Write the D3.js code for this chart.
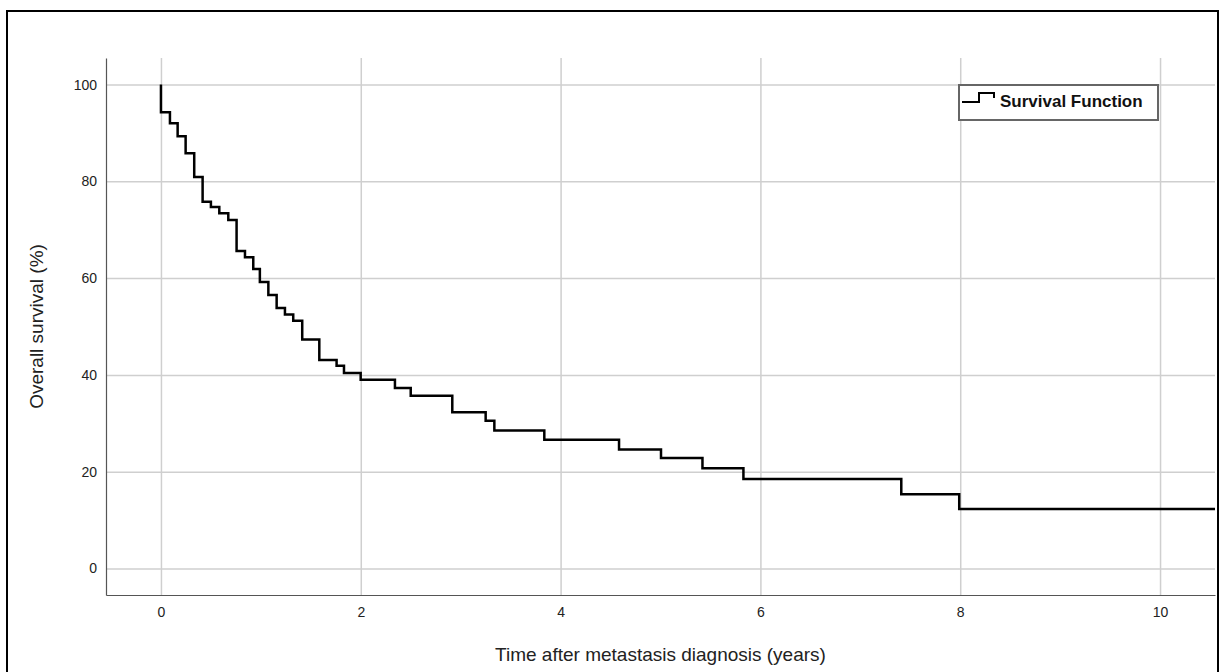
<!DOCTYPE html>
<html>
<head>
<meta charset="utf-8">
<script src="https://cdn.jsdelivr.net/npm/d3@7/dist/d3.min.js"></script>
<style>
  body { margin: 0; background: #fff; }
  svg { display: block; font-family: "Liberation Sans", Arial, sans-serif; }
  .grid line { stroke: #cfcfcf; stroke-width: 1.5; }
  .grid path { display: none; }
  .axis path { stroke: #555; stroke-width: 1.2; }
  .axis line { display: none; }
  .axis text { fill: #222; font-size: 14px; }
</style>
</head>
<body>
<div id="chart"></div>
<script>
// Kaplan-Meier steps (time in years, survival in %)
var stepTimes = [0, 0.09, 0.167, 0.247, 0.333, 0.417, 0.5, 0.584, 0.674, 0.757, 0.841, 0.924,
  0.99, 1.075, 1.158, 1.241, 1.324, 1.414, 1.585, 1.758, 1.832, 1.999, 2.342, 2.5,
  2.916, 3.25, 3.337, 3.837, 4.585, 5.005, 5.42, 5.83, 7.41, 7.99];
var stepSurvival = [94.3, 92.0, 89.3, 85.8, 80.9, 75.8, 74.7, 73.4, 72.0, 65.6, 64.3, 61.9,
  59.2, 56.5, 53.8, 52.5, 51.2, 47.3, 43.1, 41.9, 40.4, 39.0, 37.3, 35.7,
  32.3, 30.5, 28.5, 26.6, 24.6, 22.8, 20.7, 18.5, 15.3, 12.3];
var startSurvival = 100;
var lastFollowUp = 10.55;

var xTicks = [0, 2, 4, 6, 8, 10];
var yTicks = [0, 20, 40, 60, 80, 100];

var W = 1219, H = 672;
var margin = { top: 58, right: 4, bottom: 77, left: 106 },
    width = W - margin.left - margin.right,
    height = H - margin.top - margin.bottom;

var root = d3.select("#chart").append("svg")
    .attr("width", W)
    .attr("height", H);

// outer frame
root.append("rect")
    .attr("x", 7).attr("y", 11)
    .attr("width", W - 8).attr("height", H + 20)
    .attr("fill", "none")
    .attr("stroke", "#000")
    .attr("stroke-width", 2);

var svg = root.append("g")
    .attr("transform", "translate(" + margin.left + "," + margin.top + ")");

var x = d3.scaleLinear()
    .domain([-0.55, 10.55])
    .range([0, width]);

var y = d3.scaleLinear()
    .domain([-5.5, 105.5])
    .range([height, 0]);

/* gridlines */
svg.append("g")
    .attr("class", "grid")
    .attr("transform", "translate(0," + height + ")")
    .call(d3.axisBottom(x).tickValues(xTicks).tickSize(-height).tickFormat(""));

svg.append("g")
    .attr("class", "grid")
    .call(d3.axisLeft(y).tickValues(yTicks).tickSize(-width).tickFormat(""));

/* axes */
svg.append("g")
    .attr("class", "axis")
    .attr("transform", "translate(0," + height + ")")
    .call(d3.axisBottom(x).tickValues(xTicks).tickSize(0).tickPadding(12).tickSizeOuter(0));

svg.append("g")
    .attr("class", "axis")
    .call(d3.axisLeft(y).tickValues(yTicks).tickSize(0).tickPadding(9).tickSizeOuter(0));

// axis titles
svg.append("text")
    .attr("x", width / 2)
    .attr("y", height + 66)
    .attr("text-anchor", "middle")
    .style("font-size", "19px")
    .style("fill", "#222")
    .text("Time after metastasis diagnosis (years)");

svg.append("text")
    .attr("transform", "rotate(-90)")
    .attr("x", -height / 2)
    .attr("y", -63)
    .attr("text-anchor", "middle")
    .style("font-size", "19px")
    .style("fill", "#222")
    .text("Overall survival (%)");

/* survival curve */
var pts = [[0, startSurvival]];
stepTimes.forEach(function (t, i) { pts.push([t, stepSurvival[i]]); });
pts.push([lastFollowUp, stepSurvival[stepSurvival.length - 1]]);

svg.append("path")
    .datum(pts)
    .attr("fill", "none")
    .attr("stroke", "#000")
    .attr("stroke-width", 2.5)
    .attr("d", d3.line()
        .x(function (d) { return x(d[0]); })
        .y(function (d) { return y(d[1]); })
        .curve(d3.curveStepAfter));

/* legend */
var lg = root.append("g").attr("transform", "translate(959,85)");
lg.append("rect")
    .attr("width", 199).attr("height", 35)
    .attr("fill", "#fff")
    .attr("stroke", "#666")
    .attr("stroke-width", 2);
lg.append("path")
    .attr("d", "M3,17H20V8H35V13")
    .attr("fill", "none")
    .attr("stroke", "#000")
    .attr("stroke-width", 2);
lg.append("text")
    .attr("x", 41).attr("y", 22)
    .style("font-size", "17px")
    .style("font-weight", "bold")
    .style("fill", "#111")
    .text("Survival Function");
</script>
</body>
</html>
